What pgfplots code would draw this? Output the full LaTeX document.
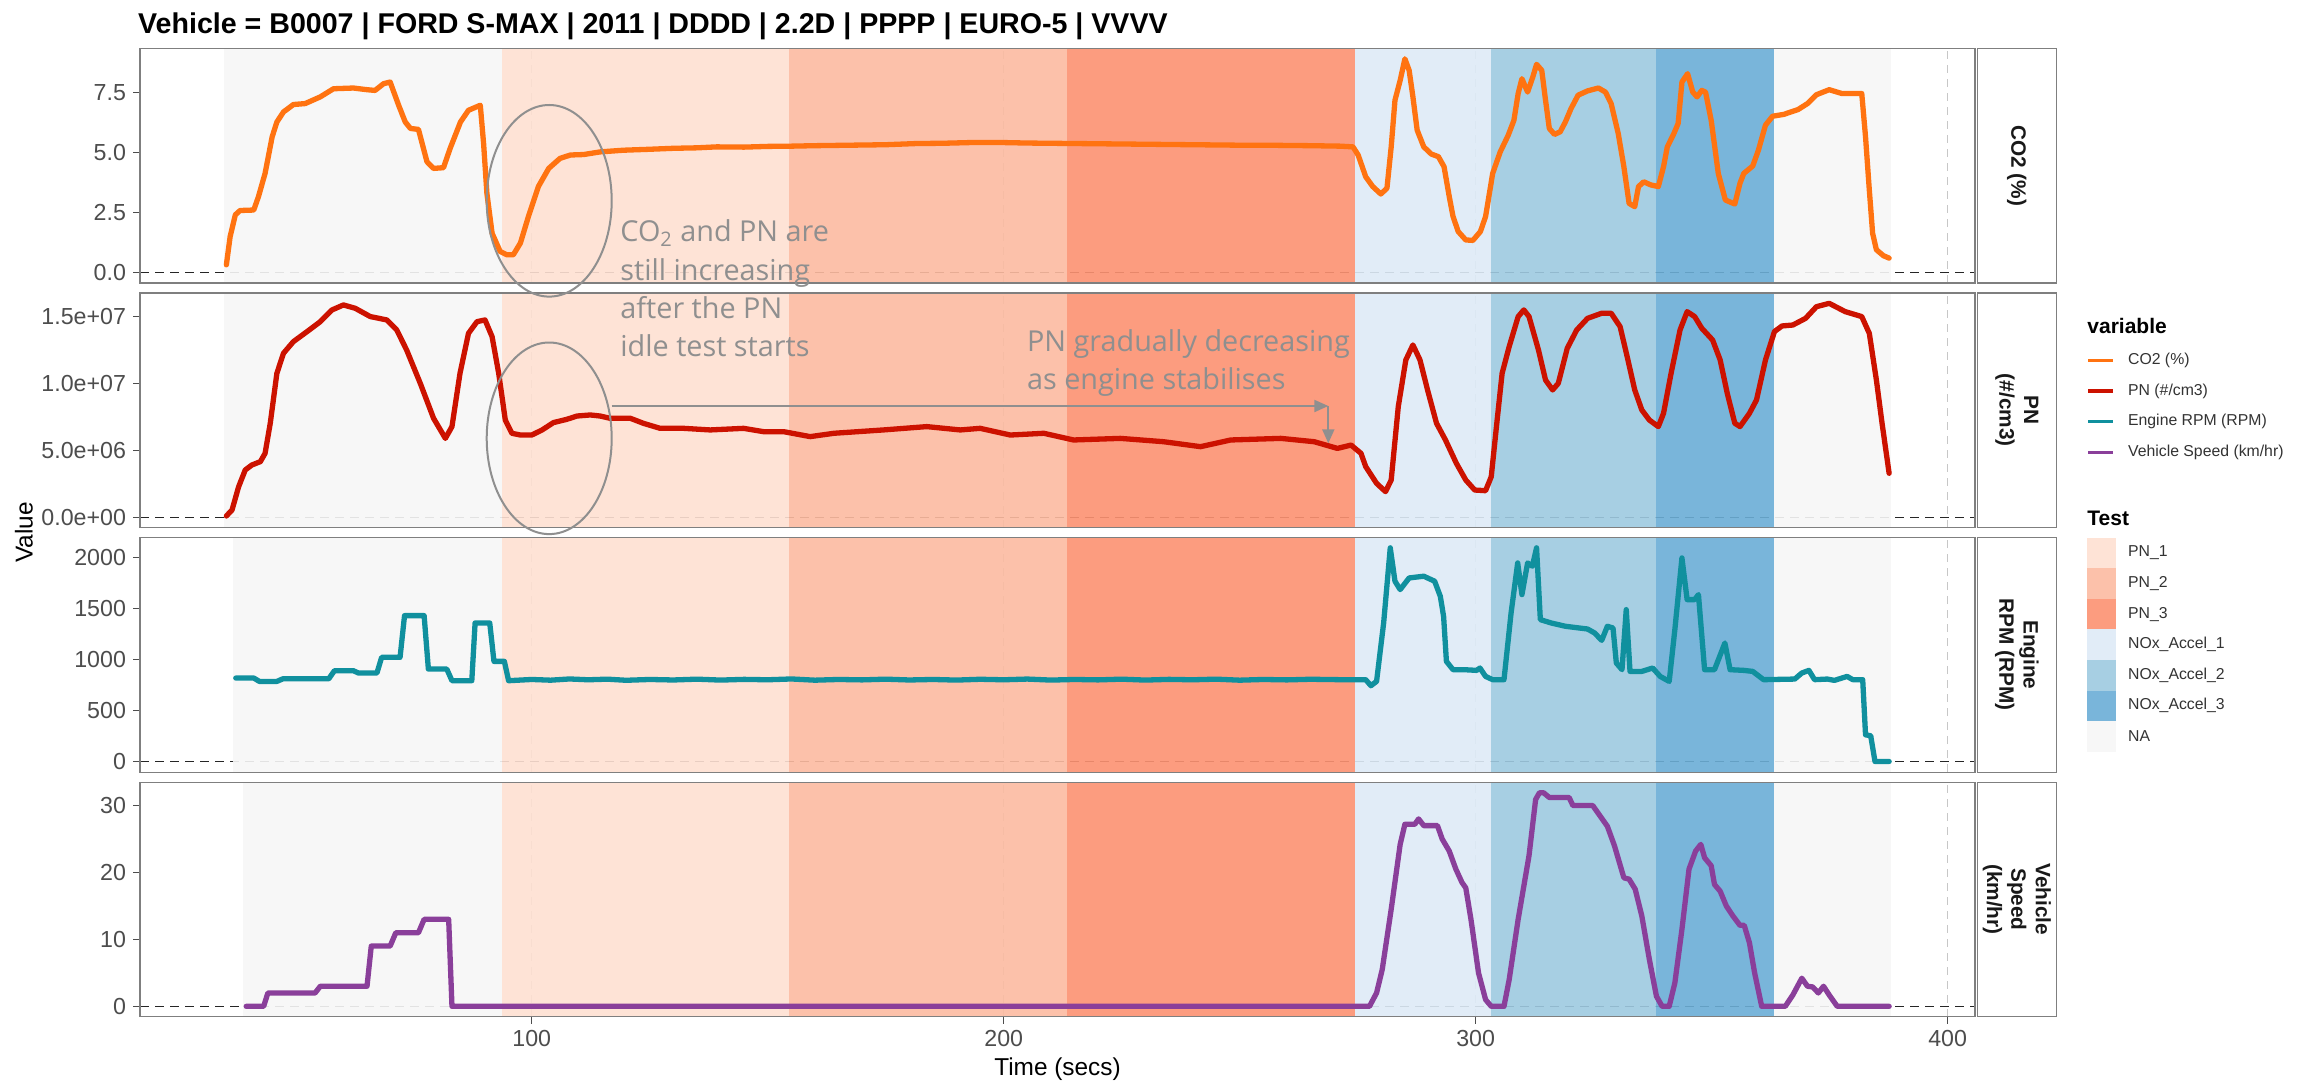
\documentclass[border=0pt]{standalone}
\usepackage{pgfplots}
\pgfplotsset{compat=1.18}
\usepackage{fontspec}
\setmainfont{Liberation Sans}
\newfontfamily\annfont{Open Sans}
\usetikzlibrary{arrows.meta}
\definecolor{tickgrey}{HTML}{4D4D4D}
\definecolor{co2c}{HTML}{FF7311}
\definecolor{pnc}{HTML}{CC1200}
\definecolor{rpmc}{HTML}{10909E}
\definecolor{spdc}{HTML}{8A3F9A}
\definecolor{naC}{HTML}{F7F7F7}
\definecolor{pnA}{HTML}{FEE0D2}
\definecolor{pnB}{HTML}{FCBBA1}
\definecolor{pnC}{HTML}{FC9272}
\definecolor{nxA}{HTML}{DEEBF7}
\definecolor{nxB}{HTML}{9ECAE1}
\definecolor{nxC}{HTML}{6BAED6}
\definecolor{anngrey}{HTML}{8F8F8F}
\definecolor{framegrey}{HTML}{7F7F7F}

\pgfplotsset{
  panel/.style={
    scale only axis, width=917.5pt, height=117.3pt,
    xmin=17, xmax=405.8,
    axis line style={draw=framegrey, line width=0.6pt},
    tick align=outside, major tick length=3.5pt,
    every tick/.style={draw=tickgrey, line width=0.6pt},
    xtick={100,200,300,400},
    xmajorgrids,
    major grid style={draw=black!22, dash pattern=on 4pt off 3pt, line width=0.5pt},
    xtick pos=bottom, ytick pos=left,
    tick label style={font=\fontsize{11.6}{12}\selectfont, text=tickgrey},
    /pgf/number format/assume math mode=true,
    anchor=south west,
  },
  toppanel/.style={panel, xticklabels={}, xtick style={draw=none}},
  shade/.style={draw=none, fill=#1, fill opacity=0.9},
  series/.style={draw=#1, line width=2.65pt, line join=round, line cap=round},
  zeroline/.style={draw=black!85, line width=0.6pt, dash pattern=on 4.5pt off 3pt},
}

% #1 NA start, #2 ymin, #3 ymax
\newcommand{\shading}[3]{%
  \addplot[zeroline] coordinates {(17,0) (405.8,0)};
  \addplot[shade=naC] coordinates {(#1,#2) (93.7,#2) (93.7,#3) (#1,#3)} -- cycle;
  \addplot[shade=pnA] coordinates {(93.7,#2) (154.5,#2) (154.5,#3) (93.7,#3)} -- cycle;
  \addplot[shade=pnB] coordinates {(154.5,#2) (213.5,#2) (213.5,#3) (154.5,#3)} -- cycle;
  \addplot[shade=pnC] coordinates {(213.5,#2) (274.4,#2) (274.4,#3) (213.5,#3)} -- cycle;
  \addplot[shade=nxA] coordinates {(274.4,#2) (303.3,#2) (303.3,#3) (274.4,#3)} -- cycle;
  \addplot[shade=nxB] coordinates {(303.3,#2) (338.3,#2) (338.3,#3) (303.3,#3)} -- cycle;
  \addplot[shade=nxC] coordinates {(338.3,#2) (363.2,#2) (363.2,#3) (338.3,#3)} -- cycle;
  \addplot[shade=naC] coordinates {(363.2,#2) (388.0,#2) (388.0,#3) (363.2,#3)} -- cycle;
}
\newcommand{\frameit}{\draw[framegrey, line width=0.6pt] (rel axis cs:0,0) rectangle (rel axis cs:1,1);}

\begin{document}
\begin{tikzpicture}
\useasboundingbox (0,0) rectangle (1152.5pt,542pt);
\fill[white] (0,0) rectangle (1152.5pt,542pt);

% ---------- Panel 1: CO2 ----------
\begin{axis}[toppanel, at={(70pt,400.55pt)},
  ymin=-0.446, ymax=9.36, ytick={0,2.5,5,7.5}, yticklabels={0.0,2.5,5.0,7.5}]
\shading{34.7}{-0.446}{9.36}
\addplot[series=co2c] coordinates {
(35.3,0.31)(36.1,1.49)(37.2,2.40)(38.2,2.58)(41.1,2.60)(42.1,3.16)(43.5,4.13)(45.0,5.66)(46.0,6.28)(47.4,6.70)(49.5,7.01)(52.0,7.05)(55.2,7.33)(58.0,7.67)(62.2,7.70)(65.1,7.63)(66.8,7.60)(68.6,7.88)(70.0,7.95)(71.8,6.98)(73.2,6.28)(74.3,6.01)(76.0,5.97)(77.8,4.62)(79.2,4.34)(81.3,4.37)(82.7,5.17)(84.9,6.28)(86.6,6.77)(89.1,6.98)(89.8,5.38)(90.5,3.30)(91.6,1.63)(93.3,0.87)(94.7,0.73)(96.1,0.73)(97.6,1.22)(99.3,2.33)(101.4,3.58)(103.6,4.34)(106.0,4.76)(108.2,4.90)(111.0,4.92)(114.5,5.03)(119.4,5.10)(125,5.14)(130,5.18)(135,5.20)(139.2,5.24)(145,5.23)(150,5.26)(155,5.27)(160,5.29)(167.5,5.31)(175,5.33)(181.6,5.38)(187,5.39)(192.9,5.42)(200,5.42)(205,5.40)(210,5.39)(215,5.38)(220,5.37)(225,5.36)(230,5.35)(235,5.34)(240,5.33)(245,5.32)(250,5.31)(255,5.31)(260,5.30)(265,5.29)(271.3,5.27)(274.0,5.24)(275.1,4.90)(276.7,3.99)(278.2,3.58)(279.9,3.27)(281.2,3.51)(282.1,5.24)(282.9,7.19)(284.0,8.02)(285.0,8.92)(285.9,8.44)(286.7,7.33)(287.6,5.94)(289.0,5.24)(290.6,4.94)(292.1,4.83)(293.3,4.41)(294.4,3.16)(295.2,2.33)(296.3,1.70)(297.9,1.35)(299.4,1.33)(301.0,1.70)(302.1,2.33)(303.6,4.13)(305.2,5.03)(306.9,5.73)(308.1,6.35)(309.0,7.47)(309.8,8.09)(311.0,7.53)(312.1,8.16)(312.9,8.69)(314.0,8.44)(314.8,7.19)(315.6,6.01)(316.7,5.76)(317.9,5.87)(319.0,6.28)(320.2,6.84)(321.7,7.40)(323.7,7.58)(326.0,7.70)(327.5,7.53)(328.7,7.05)(330.2,5.80)(331.4,4.41)(332.5,2.88)(333.7,2.74)(334.5,3.58)(335.6,3.78)(337.1,3.65)(338.7,3.58)(339.8,4.41)(340.6,5.24)(342.0,5.80)(342.9,6.22)(343.7,7.95)(344.9,8.30)(346.0,7.53)(346.9,7.33)(347.9,7.60)(348.7,7.53)(349.9,6.35)(351.4,4.13)(352.9,3.02)(354.9,2.85)(356.0,3.72)(356.8,4.13)(358.7,4.44)(359.9,5.10)(361.4,6.15)(362.9,6.52)(365.3,6.60)(368.3,6.80)(370.3,7.05)(372.2,7.42)(374.9,7.63)(377.6,7.47)(381.8,7.47)(382.6,5.66)(383.4,3.44)(384.1,1.63)(384.9,0.94)(386.4,0.69)(387.6,0.59)
};
\frameit
\end{axis}

% ---------- Panel 2: PN ----------
\begin{axis}[toppanel, at={(70pt,278.25pt)},
  ymin=-0.76, ymax=16.77, ytick={0,5,10,15}, yticklabels={0.0e+00,5.0e+06,1.0e+07,1.5e+07}]
\shading{34.7}{-0.76}{16.77}
\addplot[series=pnc] coordinates {
(35.3,0.10)(36.5,0.55)(37.9,2.29)(39.3,3.54)(40.7,3.91)(42.5,4.16)(43.5,4.78)(44.6,7.03)(46.0,10.76)(47.4,12.26)(49.5,13.13)(52.4,13.88)(55.2,14.62)(57.7,15.50)(60.1,15.87)(62.6,15.62)(65.8,15.0)(69.3,14.75)(71.4,14.0)(73.5,12.5)(76.4,10.0)(79.2,7.40)(81.7,5.90)(83.1,6.78)(84.8,10.76)(86.6,13.75)(88.4,14.62)(90.1,14.75)(91.6,13.50)(93.0,10.76)(94.4,7.27)(95.8,6.28)(97.6,6.15)(100.0,6.15)(102.2,6.53)(104.6,7.08)(107.4,7.32)(109.6,7.57)(112.4,7.65)(114.5,7.57)(116.6,7.40)(120.9,7.40)(123.7,7.02)(127.2,6.65)(132.2,6.65)(137.8,6.53)(144.9,6.65)(149.1,6.40)(153.4,6.40)(159.0,6.03)(164.0,6.28)(174.5,6.53)(183.7,6.78)(190.8,6.53)(195.0,6.65)(201.4,6.15)(208.5,6.28)(214.8,5.78)(224.7,5.90)(233.9,5.65)(241.7,5.28)(248.1,5.78)(258.7,5.90)(265.8,5.65)(270.7,5.15)(273.6,5.40)(275.7,4.78)(276.7,3.79)(279.0,2.54)(280.9,1.92)(282.1,2.79)(283.6,8.27)(285.2,11.76)(286.7,12.88)(288.2,11.76)(289.8,9.52)(291.7,7.03)(293.6,5.78)(295.9,4.04)(297.9,2.79)(299.8,2.04)(302.1,1.99)(303.3,3.04)(304.4,6.78)(305.6,10.76)(307.1,12.76)(309.0,15.0)(310.2,15.50)(311.3,15.0)(313.3,12.51)(314.8,10.26)(316.3,9.52)(317.5,10.01)(319.4,12.63)(321.4,14.0)(323.7,14.87)(326.7,15.25)(328.7,15.25)(330.6,14.25)(332.1,12.0)(333.7,9.52)(335.2,8.02)(336.8,7.27)(338.7,6.78)(339.8,7.77)(341.4,10.76)(343.3,14.0)(344.8,15.37)(346.4,15.0)(347.9,14.13)(350.2,13.25)(351.8,11.76)(353.3,9.27)(354.9,7.03)(356.0,6.78)(358.0,7.77)(359.5,8.77)(361.4,11.76)(363.3,13.88)(364.9,14.30)(367.2,14.37)(369.9,14.87)(372.2,15.74)(374.9,15.99)(378.3,15.37)(381.8,15.0)(383.4,13.75)(384.9,10.26)(386.1,7.03)(387.6,3.29)
};
\frameit
\end{axis}

% ---------- Panel 3: RPM ----------
\begin{axis}[toppanel, at={(70pt,155.95pt)},
  ymin=-104, ymax=2193, ytick={0,500,1000,1500,2000}, yticklabels={0,500,1000,1500,2000}]
\shading{36.8}{-104}{2193}
\addplot[series=rpmc] coordinates {
(37.3,817)(41.1,817)(42.3,784)(46.0,784)(47.3,810)(57.0,810)(58.2,889)(62.2,889)(63.3,866)(67.2,866)(68.2,1020)(72.1,1020)(73.05,1428)(77.2,1428)(78.1,905)(82.0,905)(83.1,791)(87.3,791)(88.0,1356)(91.1,1356)(92.0,980)(94.2,980)(95.1,791)(100,803)(104,796)(108,808)(112,800)(116,806)(120,795)(125,803)(130,798)(135,806)(140,797)(145,804)(150,800)(155,808)(160,796)(165,803)(170,799)(175,806)(180,798)(185,803)(190,797)(195,805)(200,800)(205,807)(210,797)(215,803)(220,799)(225,806)(230,797)(235,804)(240,800)(245,806)(250,796)(255,803)(260,799)(265,805)(271.3,801)(276.7,801)(277.8,742)(279.0,784)(280.5,1356)(281.9,2092)(282.9,1765)(284.0,1683)(285.9,1797)(289.0,1814)(291.3,1765)(292.5,1618)(293.2,1422)(293.8,980)(295.2,899)(297.5,899)(300.2,892)(300.9,915)(302.1,833)(303.6,801)(306.0,801)(307.5,1454)(308.9,1944)(309.8,1634)(311.0,1944)(312.0,1912)(312.9,2092)(313.7,1389)(316.0,1356)(319.0,1324)(323.7,1297)(325.2,1258)(326.7,1186)(327.9,1324)(329.1,1307)(329.8,964)(331.0,899)(331.9,1487)(332.7,882)(335.2,882)(337.5,915)(339.1,833)(341.0,784)(342.2,1291)(343.7,1993)(344.8,1585)(346.4,1585)(347.2,1634)(348.5,899)(350.6,899)(352.8,1160)(353.9,899)(356.8,892)(358.7,882)(361.0,801)(367.6,807)(369.1,866)(370.6,892)(371.8,801)(374.5,807)(376.0,794)(378.7,833)(379.9,801)(382.0,801)(382.6,261)(383.7,252)(384.6,0)(387.6,0)
};
\frameit
\end{axis}

% ---------- Panel 4: Speed ----------
\begin{axis}[panel, at={(70pt,33.65pt)},
  ymin=-1.55, ymax=33.5, ytick={0,10,20,30}, yticklabels={0,10,20,30},
  xticklabels={100,200,300,400}]
\shading{38.8}{-1.55}{33.5}
\addplot[series=spdc] coordinates {
(39.5,0)(43.2,0)(44.1,2)(54.1,2)(55.2,3)(65.1,3)(66.0,9)(70.0,9)(71.2,11)(76.0,11)(77.2,13)(82.4,13)(83.1,0)(277.5,0)(279.0,2)(280.2,5.5)(282.1,14.5)(284.0,24.2)(285.0,27.2)(287.1,27.2)(287.9,28.0)(289.0,27.0)(291.9,27.0)(292.9,25.0)(294.4,23.2)(295.8,20.5)(297.1,18.5)(297.9,17.7)(299.0,13.0)(300.6,5.0)(302.1,1.0)(303.3,0)(306.0,0)(307.1,4.0)(309.0,13.0)(311.3,22.5)(312.7,30.9)(313.5,31.9)(314.4,31.9)(315.6,31.2)(319.8,31.2)(320.6,30.0)(324.8,30.0)(326.4,28.4)(327.9,26.9)(329.4,24.0)(331.4,19.2)(332.5,19.0)(333.8,17.5)(335.2,13.5)(336.8,7.0)(338.3,1.5)(339.5,0)(341.0,0)(342.2,3.5)(343.7,11.5)(345.2,20.5)(346.6,23.2)(347.7,24.2)(348.5,22.2)(349.9,21.0)(350.6,18.2)(351.8,17.2)(353.1,15.0)(354.5,13.5)(356.0,12.1)(356.9,12.1)(358.0,9.5)(359.1,5.0)(360.6,0)(365.6,0)(367.2,1.7)(369.1,4.2)(370.3,3.0)(371.4,2.9)(372.6,2.0)(373.7,3.0)(374.9,1.7)(376.6,0)(387.6,0)
};
\frameit
\end{axis}

% ---------- strips ----------
\foreach \yb/\txt in {400.55/{CO2 (\%)}, 278.25/{PN\\(\#/cm3)}, 155.95/{Engine\\RPM (RPM)}, 33.65/{Vehicle\\Speed\\(km/hr)}}{
  \draw[framegrey, line width=0.6pt, fill=white] (988.6pt,\yb pt) rectangle (1028.35pt,\yb pt+117.3pt);
  \node[rotate=-90, align=center, font=\fontsize{10.4}{12.2}\selectfont\bfseries, text=black!90, inner sep=0pt]
    at (1008.4pt,\yb pt+58.65pt) {\txt};
}

% ---------- titles ----------
\node[anchor=base west, font=\fontsize{14.3}{16}\selectfont\bfseries, inner sep=0pt] at (68.9pt,525.35pt)
  {Vehicle = B0007 | FORD S-MAX | 2011 | DDDD | 2.2D | PPPP | EURO-5 | VVVV};
\node[rotate=90, font=\fontsize{12.2}{14}\selectfont, inner sep=0pt] at (12pt,275.75pt) {Value};
\node[anchor=base, font=\fontsize{12.2}{14}\selectfont, inner sep=0pt] at (528.75pt,4.5pt) {Time (secs)};

% ---------- annotations ----------
\draw[anngrey, line width=1pt] (274.6pt,441.6pt) ellipse [x radius=31.25pt, y radius=47.9pt];
\draw[anngrey, line width=1pt] (274.6pt,322.85pt) ellipse [x radius=31.25pt, y radius=47.9pt];
\draw[anngrey, line width=1pt, -{Triangle[length=7pt,width=6pt]}] (305.85pt,339pt) -- (664.15pt,339pt);
\draw[anngrey, line width=1pt, -{Triangle[length=7pt,width=6pt]}] (664.15pt,339pt) -- (664.15pt,320.35pt);
\begin{scope}[every node/.style={anchor=base west, inner sep=0pt, text=anngrey, font=\annfont\fontsize{14.4}{16}\selectfont}]
\node at (310pt,421.15pt) {CO\textsubscript{2} and PN are};
\node at (310pt,402pt) {still increasing};
\node at (310pt,382.85pt) {after the PN};
\node at (310pt,363.65pt) {idle test starts};
\node at (513.35pt,366.15pt) {PN gradually decreasing};
\node at (513.35pt,347.35pt) {as engine stabilises};
\end{scope}

% ---------- legends ----------
\node[anchor=base west, inner sep=0pt, font=\fontsize{10.5}{12}\selectfont\bfseries] at (1043.5pt,375.5pt) {variable};
\foreach \yy/\cc/\lab in {361.65/co2c/{CO2 (\%)}, 346.5/pnc/{PN (\#/cm3)}, 331.15/rpmc/{Engine RPM (RPM)}, 315.85/spdc/{Vehicle Speed (km/hr)}}{
  \draw[\cc, line width=1.7pt] (1044pt,\yy pt) -- (1056.5pt,\yy pt);
  \node[anchor=west, inner sep=0pt, font=\fontsize{7.9}{9}\selectfont, text=black!80] at (1063.85pt,\yy pt) {\lab};
}
\node[anchor=base west, inner sep=0pt, font=\fontsize{10.5}{12}\selectfont\bfseries] at (1043.5pt,279.5pt) {Test};
\foreach \i/\cc/\lab in {0/pnA/PN\_1, 1/pnB/PN\_2, 2/pnC/PN\_3, 3/nxA/NOx\_Accel\_1, 4/nxB/NOx\_Accel\_2, 5/nxC/NOx\_Accel\_3, 6/naC/NA}{
  \pgfmathsetmacro{\ytop}{(1084-(537.7+30.57*\i))*0.5}
  \fill[\cc, fill opacity=0.9] (1043.35pt,\ytop pt) rectangle (1058pt,\ytop pt-15.28pt);
  \node[anchor=west, inner sep=0pt, font=\fontsize{7.9}{9}\selectfont, text=black!80] at (1063.85pt,\ytop pt-7.64pt) {\lab};
}
\end{tikzpicture}
\end{document}
